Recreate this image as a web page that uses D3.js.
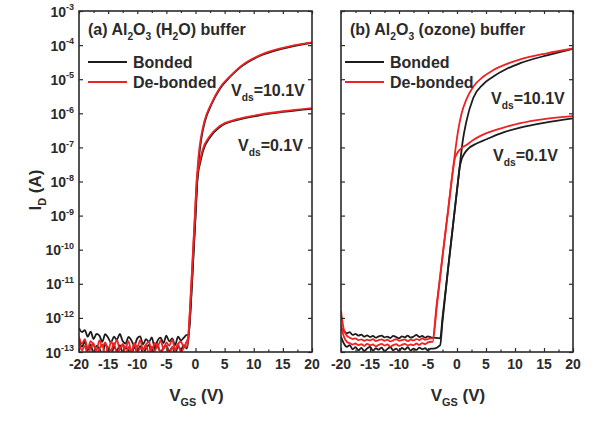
<!DOCTYPE html>
<html>
	<head>
		<meta charset="utf-8">
		<title>Transfer curves, bonded vs de-bonded</title>
		<style>
			html, body { margin: 0; padding: 0; background: #fff; }
		</style>
	</head>
	<body>
		<svg id="chart" width="595" height="425"></svg>
	</body>

	<script src="https://d3js.org/d3.v7.min.js"></script>
	<script>
		// gate voltage for the noisy off-state part of the sweeps
		let vOffA = [-20,-19.5,-19,-18.5,-18,-17.5,-17,-16.5,-16,-15.5,-15,-14.5,-14,-13.5,-13,-12.5,-12,-11.5,-11,-10.5,
			-10,-9.5,-9,-8.5,-8,-7.5,-7,-6.5,-6,-5.5,-5,-4.5,-4,-3.5,-3,-2.5,-2,-1.5];
		let vOffB = [-20,-19.5,-19,-18.5,-18,-17.5,-17,-16.5,-16,-15.5,-15,-14.5,-14,-13.5,-13,-12.5,-12,-11.5,-11,-10.5,
			-10,-9.5,-9,-8.5,-8,-7.5,-7,-6.5,-6,-5.5,-5,-4.5];

		// log10(Id) in off state, panel (a) H2O buffer
		let bondedHiOffA = [-12.30,-12.42,-12.36,-12.55,-12.40,-12.62,-12.47,-12.52,-12.70,-12.48,-12.58,-12.72,-12.55,-12.64,-12.47,-12.68,-12.75,-12.56,-12.66,-12.82,
			-12.60,-12.54,-12.78,-12.62,-12.71,-12.57,-12.88,-12.66,-12.58,-12.74,-12.52,-12.69,-12.60,-12.80,-12.55,-12.66,-12.58,-12.50];
		let bondedLoOffA = [-12.60,-12.85,-12.70,-12.95,-12.78,-13.05,-12.82,-12.90,-13.08,-12.76,-12.92,-13.10,-12.84,-12.97,-12.80,-13.02,-12.88,-12.95,-13.06,-12.86,
			-12.99,-12.83,-13.04,-12.90,-12.79,-13.07,-12.92,-12.85,-13.00,-12.88,-12.81,-12.98,-12.86,-13.05,-12.84,-12.93,-12.80,-12.90];
		let debondedHiOffA = [-12.55,-12.75,-12.62,-12.90,-12.68,-12.80,-12.95,-12.66,-12.85,-12.72,-13.00,-12.70,-12.82,-12.64,-12.92,-12.76,-12.88,-12.68,-13.02,-12.74,
			-12.86,-12.65,-12.94,-12.78,-12.70,-12.98,-12.73,-12.84,-12.66,-12.90,-12.72,-12.82,-12.64,-12.93,-12.76,-12.70,-12.85,-12.68];
		let debondedLoOffA = [-12.70,-12.95,-12.82,-13.08,-12.88,-12.75,-13.05,-12.90,-12.78,-13.10,-12.86,-12.96,-12.74,-13.04,-12.92,-12.80,-13.08,-12.85,-12.97,-12.76,
			-13.02,-12.88,-12.94,-12.79,-13.06,-12.84,-12.98,-12.77,-13.03,-12.90,-12.82,-13.07,-12.86,-12.95,-12.78,-13.00,-12.88,-12.84];

		// log10(Id) in off state, panel (b) ozone buffer
		let bondedHiOffB = [-12.30,-12.38,-12.45,-12.42,-12.50,-12.47,-12.52,-12.49,-12.55,-12.51,-12.56,-12.53,-12.58,-12.54,-12.52,-12.57,
			-12.55,-12.59,-12.53,-12.56,-12.60,-12.54,-12.57,-12.52,-12.58,-12.55,-12.50,-12.56,-12.53,-12.58,-12.54,-12.57];
		let bondedLoOffB = [-12.55,-12.75,-12.85,-12.80,-12.92,-12.86,-12.95,-12.88,-12.97,-12.90,-12.85,-12.96,-12.89,-12.93,-12.87,-12.98,
			-12.91,-12.86,-12.95,-12.90,-12.97,-12.88,-12.93,-12.86,-12.96,-12.90,-12.94,-12.87,-12.92,-12.89,-12.95,-12.90];
		let debondedHiOffB = [-11.80,-12.35,-12.52,-12.58,-12.62,-12.60,-12.65,-12.63,-12.67,-12.64,-12.66,-12.62,-12.68,-12.65,-12.63,-12.67,
			-12.64,-12.69,-12.66,-12.62,-12.67,-12.65,-12.63,-12.68,-12.64,-12.66,-12.62,-12.65,-12.60,-12.64,-12.62,-12.60];
		let debondedLoOffB = [-12.20,-12.55,-12.70,-12.74,-12.78,-12.75,-12.80,-12.77,-12.82,-12.76,-12.80,-12.78,-12.83,-12.79,-12.76,-12.81,
			-12.78,-12.84,-12.80,-12.77,-12.82,-12.79,-12.76,-12.81,-12.78,-12.80,-12.75,-12.79,-12.74,-12.77,-12.72,-12.70];

		// turn-on part [Vgs, log10(Id)]
		let bondedHiOnA = [[-1.2,-12.5],[-0.8,-11.6],[-0.4,-10.3],[0,-9.0],[0.3,-8.0],[0.6,-7.3],[1.0,-6.75],[1.6,-6.25],[2.8,-5.72],
			[4.2,-5.28],[6,-4.92],[7.7,-4.65],[11,-4.32],[15,-4.1],[20,-3.93]];
		let debondedHiOnA = [[-1.3,-12.6],[-0.9,-11.6],[-0.5,-10.3],[-0.1,-9.0],[0.2,-8.0],[0.5,-7.3],[0.9,-6.75],[1.5,-6.25],[2.7,-5.72],
			[4.1,-5.27],[6,-4.9],[7.7,-4.63],[11,-4.3],[15,-4.08],[20,-3.92]];
		let bondedLoOnA = [[-1.2,-12.6],[-0.8,-11.6],[-0.4,-10.3],[0,-9.0],[0.3,-8.0],[0.5,-7.7],[0.8,-7.46],[1.3,-7.1],[2.5,-6.7],
			[4.2,-6.4],[7,-6.2],[11,-6.06],[15,-5.96],[20,-5.87]];
		let debondedLoOnA = [[-1.3,-12.7],[-0.9,-11.6],[-0.5,-10.3],[-0.1,-9.0],[0.2,-8.0],[0.4,-7.7],[0.7,-7.44],[1.2,-7.08],[2.4,-6.68],
			[4.1,-6.38],[7,-6.18],[11,-6.04],[15,-5.94],[20,-5.85]];

		let bondedHiOnB = [[-4,-12.58],[-2.9,-12.6],[-2.5,-12.0],[-1.5,-10.5],[-0.5,-9.0],[0.2,-7.96],[0.6,-7.35],[1.0,-6.8],[1.6,-6.25],
			[2.8,-5.55],[4.5,-5.15],[6.2,-4.93],[8.5,-4.7],[10.9,-4.53],[15.5,-4.3],[20,-4.11]];
		let debondedHiOnB = [[-4.2,-12.6],[-3.5,-11.6],[-2.5,-10.2],[-1.5,-8.8],[-0.8,-7.8],[-0.3,-7.1],[0.2,-6.5],[0.8,-6.0],[1.6,-5.6],
			[2.8,-5.22],[4.5,-4.93],[6.2,-4.74],[8.5,-4.56],[10.9,-4.42],[15.5,-4.24],[20,-4.1]];
		let bondedLoOnB = [[-4,-12.9],[-2.9,-12.8],[-2.5,-12.1],[-1.5,-10.5],[-0.5,-9.0],[0.2,-7.96],[0.45,-7.6],[0.8,-7.35],[1.2,-7.2],
			[2,-7.03],[3.2,-6.9],[5.1,-6.76],[8,-6.56],[10.9,-6.42],[15,-6.28],[20,-6.15]];
		let debondedLoOnB = [[-4.2,-12.7],[-3.5,-11.7],[-2.5,-10.2],[-1.5,-8.8],[-0.8,-7.8],[-0.4,-7.35],[0.1,-7.15],[0.8,-7.02],[1.6,-6.93],
			[2.8,-6.78],[5.1,-6.58],[8,-6.42],[10.9,-6.29],[15,-6.17],[20,-6.08]];

		let xTicks = [-20,-15,-10,-5,0,5,10,15,20];
		let xMinor = [-17.5,-12.5,-7.5,-2.5,2.5,7.5,12.5,17.5];
		let decades = [-13,-12,-11,-10,-9,-8,-7,-6,-5,-4,-3];

		let black = "#1c1c1c", red = "#ee2222", ink = "#2a2a2a";
		let font = "'Liberation Sans', Arial, sans-serif";

		let svg = d3.select("#chart")
			.attr("font-family", font).attr("font-weight", "bold").attr("fill", ink);

		let yTop = 11, yBottom = 352;
		let y = d3.scaleLinear().domain([-13, -3]).range([yBottom, yTop]);

		function join(vOff, offLogs, on)
		{
			return vOff.map((v, i) => [v, offLogs[i]]).concat(on);
		}

		// text with sub/superscripts, parts = [[text, "n"|"sub"|"sup"], ...]
		function rich(g, x, yy, parts, size, anchor)
		{
			let t = g.append("text").attr("x", x).attr("y", yy).attr("font-size", size)
				.attr("text-anchor", anchor || "start");
			let shift = 0;
			for (let p of parts)
			{
				let want = p[1] == "sub" ? size * 0.3 : p[1] == "sup" ? -size * 0.45 : 0;
				t.append("tspan").attr("dy", want - shift)
					.attr("font-size", p[1] == "n" ? size : size * 0.64)
					.text(p[0]);
				shift = want;
			}
			return t;
		}

		let panels = [
			{
				id: "a", x0: 79, x1: 312, labels: true,
				title: [["(a) Al","n"],["2","sub"],["O","n"],["3","sub"],[" (H","n"],["2","sub"],["O) buffer","n"]],
				series: [
					{c: black, d: join(vOffA, bondedHiOffA, bondedHiOnA)},
					{c: black, d: join(vOffA, bondedLoOffA, bondedLoOnA)},
					{c: red, d: join(vOffA, debondedHiOffA, debondedHiOnA)},
					{c: red, d: join(vOffA, debondedLoOffA, debondedLoOnA)}
				],
				legendX: 88, hiLabel: [231, 96], loLabel: [238, 151]
			},
			{
				id: "b", x0: 341, x1: 573, labels: false,
				title: [["(b) Al","n"],["2","sub"],["O","n"],["3","sub"],[" (ozone) buffer","n"]],
				series: [
					{c: black, d: join(vOffB, bondedHiOffB, bondedHiOnB)},
					{c: black, d: join(vOffB, bondedLoOffB, bondedLoOnB)},
					{c: red, d: join(vOffB, debondedHiOffB, debondedHiOnB)},
					{c: red, d: join(vOffB, debondedLoOffB, debondedLoOnB)}
				],
				legendX: 345, hiLabel: [491, 104], loLabel: [493, 161]
			}
		];

		for (let p of panels)
		{
			let x = d3.scaleLinear().domain([-20, 20]).range([p.x0, p.x1]);
			let g = svg.append("g");

			g.append("clipPath").attr("id", "clip-" + p.id)
				.append("rect").attr("x", p.x0).attr("y", yTop).attr("width", p.x1 - p.x0).attr("height", yBottom - yTop);

			let line = d3.line().x(d => x(d[0])).y(d => y(d[1])).curve(d3.curveMonotoneX);

			g.append("g").attr("clip-path", `url(#clip-${p.id})`)
				.selectAll("path").data(p.series).join("path")
				.attr("d", d => line(d.d))
				.attr("fill", "none")
				.attr("stroke", d => d.c)
				.attr("stroke-width", 1.8)
				.attr("stroke-linejoin", "round");

			// axes, ticks pointing inward
			let axes = [
				[d3.axisBottom(x).tickValues(xTicks).tickSize(-4), `translate(0,${yBottom})`],
				[d3.axisBottom(x).tickValues(xMinor).tickSize(-2.5), `translate(0,${yBottom})`],
				[d3.axisTop(x).tickValues(xTicks).tickSize(-3), `translate(0,${yTop})`],
				[d3.axisTop(x).tickValues(xMinor).tickSize(-2), `translate(0,${yTop})`],
				[d3.axisLeft(y).tickValues(decades).tickSize(-4), `translate(${p.x0},0)`],
				[d3.axisRight(y).tickValues(decades).tickSize(-4), `translate(${p.x1},0)`]
			];
			for (let a of axes)
			{
				let ag = g.append("g").attr("transform", a[1])
					.call(a[0].tickFormat(""));
				ag.select(".domain").remove();
				ag.selectAll("line").attr("stroke", ink).attr("stroke-width", 1.2);
			}

			g.append("rect").attr("x", p.x0).attr("y", yTop).attr("width", p.x1 - p.x0).attr("height", yBottom - yTop)
				.attr("fill", "none").attr("stroke", ink).attr("stroke-width", 1.6);

			// x tick labels
			g.selectAll(".xlab").data(xTicks).join("text")
				.attr("x", d => x(d)).attr("y", 368.5).attr("text-anchor", "middle")
				.attr("font-size", 14).text(d => String(d));

			rich(g, (p.x0 + p.x1) / 2 + 1, 401, [["V","n"],["GS","sub"],[" (V)","n"]], 17, "middle");

			if (p.labels)
			{
				for (let d of decades)
					rich(g, 74, y(d) + 5.5, [["10","n"],[String(d),"sup"]], 14, "end");
			}

			// title and legend
			rich(g, p.x0 + 9, 35, p.title, 16);
			let lx = p.legendX;
			[[black, "Bonded", 62], [red, "De-bonded", 82]].forEach(l =>
			{
				g.append("line").attr("x1", lx).attr("x2", lx + 39).attr("y1", l[2]).attr("y2", l[2])
					.attr("stroke", l[0]).attr("stroke-width", 1.8);
				g.append("text").attr("x", lx + 45).attr("y", l[2] + 5.5).attr("font-size", 16).text(l[1]);
			});

			rich(g, p.hiLabel[0], p.hiLabel[1], [["V","n"],["ds","sub"],["=10.1V","n"]], 16);
			rich(g, p.loLabel[0], p.loLabel[1], [["V","n"],["ds","sub"],["=0.1V","n"]], 16);
		}

		// y axis title
		rich(svg.append("g").attr("transform", "translate(41,190) rotate(-90)"), 0, 0,
			[["I","n"],["D","sub"],[" (A)","n"]], 17, "middle");

	</script>
</html>
